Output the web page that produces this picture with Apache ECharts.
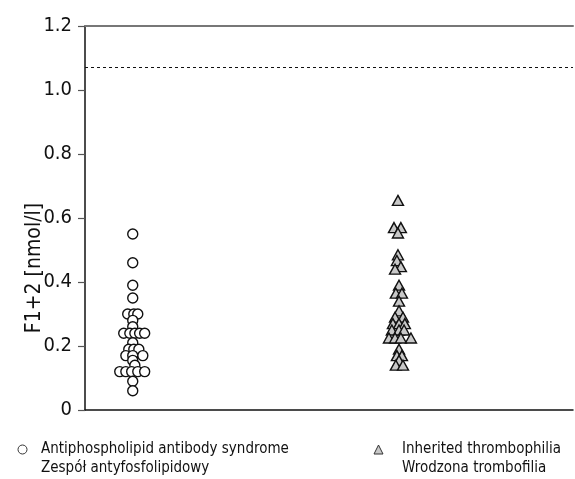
<!DOCTYPE html>
<html><head><meta charset="utf-8">
<script src="https://cdn.jsdelivr.net/npm/echarts@6/dist/echarts.min.js"></script>
<style>html,body{margin:0;padding:0;background:#fff}#c{width:575px;height:479px}</style>
</head><body><div id="c"></div>
<script>
var FONT = '"Liberation Sans Narrow","DejaVu Sans Condensed","Liberation Sans",sans-serif';
var seriesNames = ['Antiphospholipid antibody syndrome', 'Inherited thrombophilia'];
var legendLines = [['Antiphospholipid antibody syndrome', 'Zespół antyfosfolipidowy'], ['Inherited thrombophilia', 'Wrodzona trombofilia']];
var groupPositions = [1, 2];
var apsValues = [0.55,0.46,0.39,0.35,0.30,0.30,0.30,0.28,0.26,0.24,0.24,0.24,0.24,0.24,0.21,0.19,0.19,0.19,0.17,0.17,0.17,0.155,0.14,0.12,0.12,0.12,0.12,0.12,0.09,0.06];
var apsJitter = [0,0,0,0,-0.019,0.004,0.019,0,0,-0.034,-0.011,0.008,0.026,0.045,0,-0.015,0.004,0.023,-0.026,0,0.038,0,0.008,-0.049,-0.026,-0.004,0.019,0.045,0,0];
var thrValues = [0.655,0.57,0.57,0.553,0.485,0.467,0.448,0.44,0.39,0.365,0.365,0.34,0.31,0.29,0.29,0.27,0.27,0.27,0.25,0.25,0.25,0.225,0.225,0.225,0.225,0.19,0.17,0.17,0.155,0.14,0.14];
var thrJitter = [0,-0.015,0.011,0,0,-0.004,0.011,-0.011,0.004,-0.008,0.015,0.004,0.004,-0.011,0.019,-0.019,0.004,0.026,-0.023,0.004,0.023,-0.034,-0.011,0.011,0.049,0.004,-0.004,0.015,0.004,-0.008,0.019];
var referenceLimit = 1.07;
var yTicks = [0, 0.2, 0.4, 0.6, 0.8, 1.0, 1.2];

function pts(vals, jit, pos){ return vals.map(function(v,i){ return [pos + jit[i], v]; }); }

var chart = echarts.init(document.getElementById('c'), null, {renderer:'canvas'});
function legendCfg(i, left, icon, style, gap){
  return {
    data: [{name: seriesNames[i], icon: icon, itemStyle: style}],
    left: left, top: 421, padding: 0,
    itemWidth: 9, itemHeight: 9,
    selectedMode: false,
    formatter: function(){ return '\n' + legendLines[i][0] + '\n' + legendLines[i][1]; },
    textStyle: {fontFamily: FONT, fontSize: 15, color: '#111', lineHeight: 19, padding: [0, 0, 0, gap]}
  };
}
chart.setOption({
  animation: false,
  grid: {left: 85, right: 2, top: 26, bottom: 69},
  legend: [
    legendCfg(0, 17.5, 'circle', {color: '#fff', borderColor: '#333', borderWidth: 1}, 9),
    legendCfg(1, 373.5, 'triangle', {color: '#c8c8c8', borderColor: '#333', borderWidth: 1}, 14)
  ],
  xAxis: [
    {type: 'value', min: 0.82, max: 2.66, position: 'bottom',
     axisLine: {show: true, lineStyle: {color: '#111', width: 1.5}},
     axisTick: {show: false}, axisLabel: {show: false}, splitLine: {show: false}},
    {type: 'value', min: 0.82, max: 2.66, position: 'top',
     axisLine: {show: true, lineStyle: {color: '#777', width: 2}},
     axisTick: {show: false}, axisLabel: {show: false}, splitLine: {show: false}}
  ],
  yAxis: {
    type: 'value', min: yTicks[0], max: yTicks[yTicks.length-1], interval: 0.2,
    name: 'F1+2 [nmol/l]', nameLocation: 'middle', nameGap: 40, nameMoveOverlap: false,
    nameTextStyle: {fontFamily: FONT, fontSize: 21, color: '#111', padding: [0, 100, 0, 0]},
    axisLine: {show: true, lineStyle: {color: '#111', width: 1.5}},
    axisTick: {show: true, inside: false, length: 7, lineStyle: {color: '#555', width: 1.2}},
    axisLabel: {fontFamily: FONT, fontSize: 20, color: '#111', margin: 13,
      formatter: function(v){ return v === 0 ? '0' : v.toFixed(1); }},
    splitLine: {show: false}
  },
  series: [
    {name: seriesNames[0], type: 'scatter', symbol: 'circle', symbolSize: 10,
     data: pts(apsValues, apsJitter, groupPositions[0]),
     itemStyle: {color: '#fff', borderColor: '#111', borderWidth: 1.4, opacity: 1},
     markLine: {silent: true, symbol: ['none','none'], label: {show: false},
       lineStyle: {color: '#111', width: 1, type: [3,3]},
       data: [{yAxis: referenceLimit}]}},
    {name: seriesNames[1], type: 'scatter', symbol: 'triangle', symbolSize: [11, 10],
     data: pts(thrValues, thrJitter, groupPositions[1]),
     itemStyle: {color: '#c8c8c8', borderColor: '#111', borderWidth: 1.4, opacity: 1}}
  ]
});
</script></body></html>
